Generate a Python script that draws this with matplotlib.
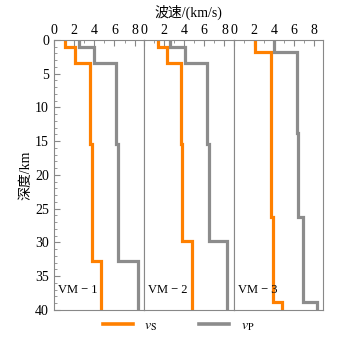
import matplotlib
matplotlib.use("Agg")
import matplotlib.pyplot as plt
from matplotlib.lines import Line2D

plt.rcParams['font.family'] = ['Liberation Serif', 'Noto Sans CJK SC']
plt.rcParams['mathtext.fontset'] = 'stix'

# Layered models: layer top depths (km) and velocities (km/s)
models = ['VM \u2212 1', 'VM \u2212 2', 'VM \u2212 3']

vs_depth_1 = [0, 1.1, 3.4, 15.4, 32.8, 40]
vs_1 = [1.15, 2.1, 3.6, 3.75, 4.7]
vp_depth_1 = [0, 1.1, 3.4, 15.4, 32.8, 40]
vp_1 = [2.5, 3.95, 6.2, 6.35, 8.3]

vs_depth_2 = [0, 1.1, 3.4, 15.4, 29.8, 40]
vs_2 = [1.4, 2.3, 3.65, 3.8, 4.8]
vp_depth_2 = [0, 1.1, 3.4, 15.4, 29.8, 40]
vp_2 = [2.6, 4.05, 6.3, 6.5, 8.2]

vs_depth_3 = [0, 1.8, 26.3, 38.8, 40]
vs_3 = [2.15, 3.7, 3.9, 4.8]
vp_depth_3 = [0, 1.8, 13.8, 26.3, 38.8, 40]
vp_3 = [4.0, 6.3, 6.4, 6.9, 8.3]

vs_all = [(vs_depth_1, vs_1), (vs_depth_2, vs_2), (vs_depth_3, vs_3)]
vp_all = [(vp_depth_1, vp_1), (vp_depth_2, vp_2), (vp_depth_3, vp_3)]

c_vs = '#ff8000'
c_vp = '#8c8c8c'
frame = '#888888'


def step_xy(depths, vals):
    xs, ys = [], []
    for i, v in enumerate(vals):
        xs += [v, v]
        ys += [depths[i], depths[i + 1]]
    return xs, ys


fig, axes = plt.subplots(1, 3, figsize=(3.43, 3.41), dpi=100, sharey=True)
fig.subplots_adjust(left=0.157, right=0.943, top=0.883, bottom=0.091, wspace=0)

for i, ax in enumerate(axes):
    x, y = step_xy(*vs_all[i])
    ax.plot(x, y, color=c_vs, lw=2.3, solid_joinstyle='miter')
    x, y = step_xy(*vp_all[i])
    ax.plot(x, y, color=c_vp, lw=2.3, solid_joinstyle='miter')
    ax.set_xlim(0, 8.9)
    ax.set_ylim(40, 0)
    ax.xaxis.tick_top()
    ax.set_xticks([0, 2, 4, 6, 8])
    ax.set_xticks([1, 3, 5, 7], minor=True)
    ax.tick_params(axis='x', which='both', direction='in', top=True, bottom=False,
                   labelsize=10, pad=2, color=frame)
    ax.tick_params(axis='x', which='major', length=4)
    ax.tick_params(axis='x', which='minor', length=2)
    ax.tick_params(axis='y', which='both', direction='in', left=(i == 0), right=False,
                   labelsize=10, color=frame)
    ax.tick_params(axis='y', which='major', length=4)
    ax.tick_params(axis='y', which='minor', length=2)
    for s in ax.spines.values():
        s.set_color(frame)
        s.set_linewidth(0.8)
    ax.text(0.05, 0.05, models[i], transform=ax.transAxes, fontsize=9,
            ha='left', va='bottom')

axes[0].set_yticks([0, 5, 10, 15, 20, 25, 30, 35, 40])
axes[0].set_yticks(range(0, 41), minor=True)
axes[0].set_ylabel('深度/km', fontsize=10, labelpad=2)

fig.text(0.548, 0.985, '波速/(km/s)', ha='center', va='top', fontsize=10)

handles = [Line2D([], [], color=c_vs, lw=2.6), Line2D([], [], color=c_vp, lw=2.6)]
fig.legend(handles, ['$v_{\\mathrm{S}}$', '$v_{\\mathrm{P}}$'], loc='center',
           bbox_to_anchor=(0.52, 0.045), ncol=2, frameon=False, fontsize=10,
           handlelength=2.2, columnspacing=3.0, handletextpad=0.8)

fig.savefig('out.png', dpi=100)
